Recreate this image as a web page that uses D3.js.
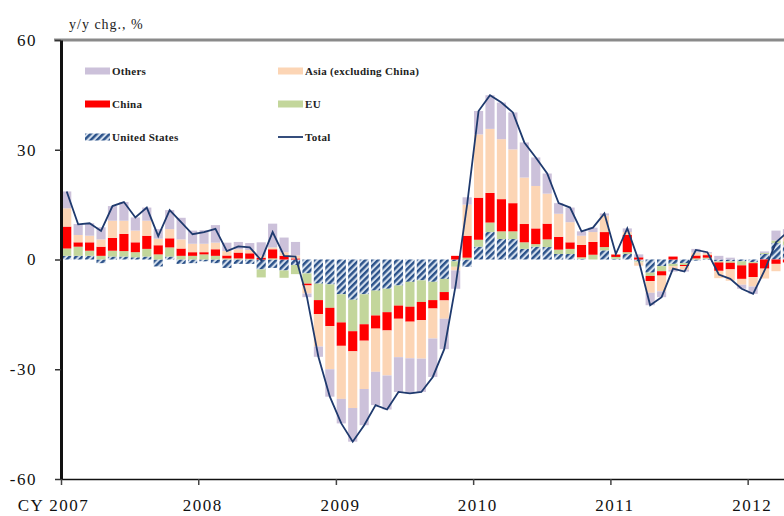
<!DOCTYPE html>
<html>
<head>
<meta charset="utf-8">
<script src="https://cdn.jsdelivr.net/npm/d3@7"></script>
<style>
    body { margin: 0; background: #fff; }
    svg { display: block; font-family: "Liberation Serif", "Times New Roman", serif; }
    .yaxis text { font-size: 17px; letter-spacing: 1.5px; fill: #111; }
    .xaxis text { font-size: 17px; letter-spacing: 1.5px; fill: #111; }
    .legend text { font-size: 11px; font-weight: bold; letter-spacing: 0.3px; fill: #222; }
    .title { font-size: 14px; letter-spacing: 1px; fill: #222; }
</style>
</head>
<body>
<svg id="chart" width="784" height="516"></svg>
<script>
// monthly categories, Jan 2007 .. Apr 2012
const months = d3.timeMonth.range(new Date(2007, 0, 1), new Date(2012, 4, 1));

// contributions, y/y chg. %
const unitedStates = [1, 1, 1, -1, 0.8, 0.8, 0.6, 0.8, -1.9, 0.8, -1.2, -1,
    -0.5, -1, -2.3, -1.2, -1.2, -2.7, -2.3, -3, -1.5, -3.8, -6.6, -6.8,
    -9.5, -11, -9.5, -8.5, -8, -7.1, -6.1, -5.7, -6.1, -5.3, -0.5, -2,
    3.5, 7.5, 5.6, 5.6, 2.9, 3.5, 3.4, 1.5, 1.5, 0.2, 0, 2.5,
    0.2, 1.5, -0.5, -3.6, -1.8, -1.2, -1, -0.3, 0.2, -0.5, -0.5, -0.5,
    -0.7, 1.5, 4.5, 4];
const eu = [2, 2.5, 1.4, 1, 1.6, 1.5, 1.4, 2.1, 1.4, 2.5, 1, 1,
    1.4, 1, 0.3, 0.3, 0.2, -2.2, 0.3, -2, -2.5, -2.8, -4.5, -6.4,
    -7.7, -8.6, -8.2, -6.8, -6.4, -5.5, -6.8, -5.9, -5, -3.6, -1.5, 0.5,
    1.9, 2.6, 2.1, 2.1, 1.8, 0.7, 2.1, 1.2, 1.4, 0.4, 1.3, 0.9,
    0.5, 0.5, -0.3, -0.9, -1.4, -0.6, -0.5, 0.3, 0.3, -0.3, -0.4, -1.1,
    -0.3, 0.3, 0.7, 1];
const china = [6, 1.2, 2.3, 2.5, 3.5, 4.7, 2.7, 3.6, 2.5, 2.5, 2, 1,
    0.6, 1.8, 0.8, 1.6, 1.5, 0.5, 2.5, 1, 0.3, -0.5, -3.8, -5,
    -6.4, -5.5, -4.5, -3.6, -5, -3.6, -4.1, -5, -2.3, -2.3, 1, 6,
    11.5, 8.1, 8.8, 7.7, 5, 4.3, 4.3, 3.5, 1.8, 3.4, 3.5, 4.1,
    0.7, 4.7, 0.6, -1.4, -1.2, 0.8, -0.3, 0.8, 0.7, -2.3, -1.8, -3.7,
    -3.8, -2.5, -1.2, -0.8];
const asiaExChina = [5, 2, 1.8, 2, 4.7, 3.6, 3.2, 4.1, 1.8, 2.5, 2.5, 2.3,
    2.3, 1.8, 1.2, 0.9, 0.9, 0.5, 0.5, 1, 0.8, -2.2, -8.9, -11.8,
    -14.5, -15.5, -13.2, -11.8, -12.3, -10.5, -10, -10.5, -8.2, -5, -1, 8.5,
    17.3, 17.5, 16.4, 14.7, 12.7, 11.6, 8.2, 6.3, 5.5, 2.5, 2.7, 4.5,
    0.1, 0.8, -0.9, -3.2, -4.3, -1, -1, 0.8, 0.5, -2, -3.1, -1.6,
    -2.6, -2.7, -2, 1.5];
const others = [4.6, 3, 3.4, 3.3, 4, 5.1, 3.6, 3.6, 2.6, 5.2, 5.9, 3.6,
    3.7, 4.8, 2.3, 2, 1.9, 3.7, 6.5, 4, 3.7, -1, -2.8, -7.5,
    -6.7, -9.2, -9.9, -9.1, -9.3, -9.5, -9.6, -9.1, -10.5, -8.3, -5, 2,
    6.4, 9.2, 10, 10.1, 9.6, 7.8, 5.5, 2.9, 4, 1.2, 1.2, 0.6,
    0, 1, 0.8, -3.4, -1.6, -0.5, -0.5, 1, 0.3, 1, 0.5, -1.1,
    -2, 0.4, 2.7, 1.8];
const total = [18.6, 9.6, 9.9, 7.8, 14.6, 15.7, 11.5, 14.2, 6.4, 13.5, 10.2, 6.9,
    7.5, 8.4, 2.3, 3.6, 3.3, -0.2, 7.5, 1.0, 0.8, -10.3, -26.6, -37.5,
    -44.8, -49.8, -45.3, -39.8, -41, -36.2, -36.6, -36.2, -32.1, -24.5, -7, 15,
    40.6, 44.9, 42.9, 40.2, 32, 27.9, 23.5, 15.4, 14.2, 7.7, 8.7, 12.6,
    1.5, 8.5, -0.3, -12.5, -10.3, -2.5, -3.3, 2.6, 2, -4.1, -5.3, -8,
    -9.4, -3, 4.7, 7.5];

const yTicks = [-60, -30, 0, 30, 60];
const yearTicks = [2007, 2008, 2009, 2010, 2011, 2012];
const yearLabels = ["CY 2007", "2008", "2009", "2010", "2011", "2012"];

const seriesKeys = ["us", "eu", "china", "asia", "others"];
const seriesNames = {us: "United States", eu: "EU", china: "China", asia: "Asia  (excluding China)", others: "Others"};
const colors = {us: "url(#hatch)", eu: "#c3d69b", china: "#ff0000", asia: "#fcd5b5", others: "#ccc1da"};

const rows = months.map((m, i) => ({
    month: m, us: unitedStates[i], eu: eu[i], china: china[i],
    asia: asiaExChina[i], others: others[i], total: total[i]
}));

const svg = d3.select("#chart");
const plotLeft = 61, plotTop = 40, plotBottom = 479;
const step = 11.44;
const plotRight = plotLeft + step * months.length;

const defs = svg.append("defs");
const pat = defs.append("pattern")
    .attr("id", "hatch")
    .attr("patternUnits", "userSpaceOnUse")
    .attr("width", 4.5).attr("height", 4.5)
    .attr("patternTransform", "rotate(45)");
pat.append("rect").attr("width", 4.5).attr("height", 4.5).attr("fill", "#d3deec");
pat.append("rect").attr("width", 2.4).attr("height", 4.5).attr("fill", "#2a5189");

const x = d3.scaleBand()
    .domain(months)
    .range([plotLeft, plotRight])
    .paddingInner(0.2)
    .paddingOuter(0.1);
const xTime = d3.scaleTime()
    .domain([new Date(2007, 0, 1), new Date(2012, 4, 1)])
    .range([plotLeft, plotRight]);
const y = d3.scaleLinear().domain([-60, 60]).range([plotBottom, plotTop]);

// stacked bars
const stacked = d3.stack()
    .keys(seriesKeys)
    .offset(d3.stackOffsetDiverging)(rows);

svg.append("g").selectAll("g")
    .data(stacked)
    .join("g")
    .attr("fill", d => colors[d.key])
    .selectAll("rect")
    .data(d => d)
    .join("rect")
    .attr("x", d => x(d.data.month))
    .attr("width", x.bandwidth())
    .attr("y", d => y(Math.max(d[0], d[1])))
    .attr("height", d => Math.abs(y(d[0]) - y(d[1])));

// total line
const line = d3.line()
    .x(d => x(d.month) + x.bandwidth() / 2)
    .y(d => y(d.total));
svg.append("path")
    .datum(rows)
    .attr("fill", "none")
    .attr("stroke", "#1f3a6e")
    .attr("stroke-width", 1.8)
    .attr("d", line);

// top border
svg.append("line")
    .attr("x1", 54).attr("x2", 784)
    .attr("y1", y(60)).attr("y2", y(60))
    .attr("stroke", "#8a8a8a").attr("stroke-width", 3);

// y axis
const yAxis = svg.append("g")
    .attr("class", "yaxis")
    .attr("transform", `translate(${plotLeft},0)`)
    .call(d3.axisLeft(y).tickValues(yTicks).tickSize(6).tickSizeOuter(0)
        .tickPadding(18).tickFormat(d => String(d)));
yAxis.attr("font-family", null).attr("font-size", null);
yAxis.select(".domain").attr("stroke", "#111").attr("stroke-width", 3);
yAxis.selectAll(".tick line").attr("stroke", "#333").attr("stroke-width", 1.5);

// x axis
const xAxis = svg.append("g")
    .attr("class", "xaxis")
    .attr("transform", `translate(0,${plotBottom})`)
    .call(d3.axisBottom(xTime)
        .tickValues(yearTicks.map(yr => new Date(yr, 0, 1)))
        .tickSize(6).tickSizeOuter(0)
        .tickFormat((d, i) => yearLabels[i]));
xAxis.attr("font-family", null).attr("font-size", null);
xAxis.select(".domain").attr("stroke", "#111").attr("stroke-width", 1.5);
xAxis.selectAll(".tick line").attr("stroke", "#444").attr("stroke-width", 1.5);
xAxis.selectAll(".tick text")
    .attr("y", 20)
    .attr("dx", (d, i) => i === 0 ? -8 : 4);

// title
svg.append("text")
    .attr("class", "title")
    .attr("x", 69).attr("y", 29)
    .text("y/y chg., %");

// legend
const legendItems = [
    {key: "others", col: 0, row: 0},
    {key: "china", col: 0, row: 1},
    {key: "us", col: 0, row: 2},
    {key: "asia", col: 1, row: 0},
    {key: "eu", col: 1, row: 1},
    {key: "total", col: 1, row: 2}
];
const legend = svg.append("g").attr("class", "legend");
legendItems.forEach(it => {
    const lx = it.col === 0 ? 85 : 278;
    const ly = 71 + it.row * 33;
    if (it.key === "total") {
        legend.append("line")
            .attr("x1", lx).attr("x2", lx + 25)
            .attr("y1", ly).attr("y2", ly)
            .attr("stroke", "#1f3a6e").attr("stroke-width", 1.8);
    } else {
        legend.append("rect")
            .attr("x", lx).attr("y", ly - 3.5)
            .attr("width", 25).attr("height", 7)
            .attr("fill", colors[it.key]);
    }
    legend.append("text")
        .attr("x", lx + 27).attr("y", ly + 4)
        .text(it.key === "total" ? "Total" : seriesNames[it.key]);
});
</script>
</body>
</html>
